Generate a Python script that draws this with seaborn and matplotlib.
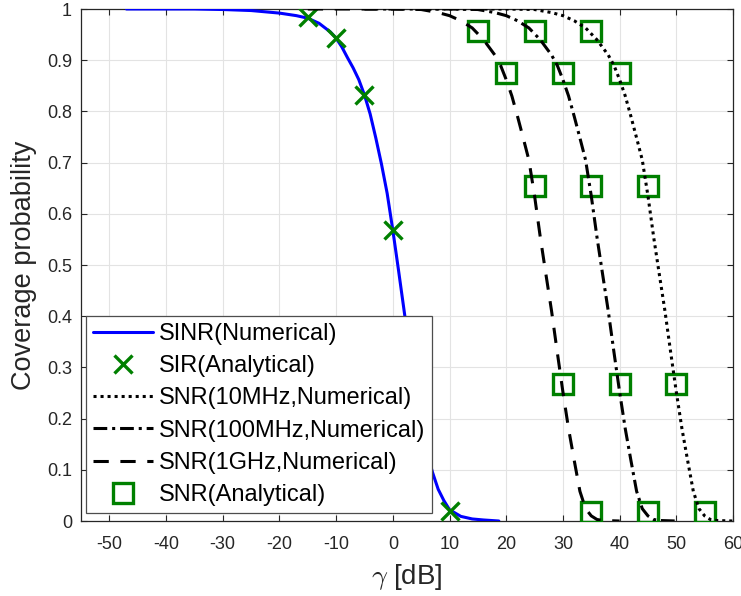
import matplotlib
matplotlib.use("Agg")
import matplotlib.pyplot as plt
import seaborn as sns

# SINR coverage probability (numerical evaluation)
sinr_gamma = [-47, -40, -35, -30, -25, -20, -17, -15, -13, -11, -10, -9, -8, -7, -6,
              -5, -4, -3, -2, -1, 0, 1, 2, 3, 4, 5, 6, 7, 8, 9, 10, 12, 14, 16, 18.7]
sinr_cov = [1.0, 1.0, 1.0, 0.999, 0.997, 0.992, 0.987, 0.982, 0.972, 0.955, 0.943,
            0.926, 0.905, 0.885, 0.862, 0.832, 0.795, 0.748, 0.697, 0.640, 0.568,
            0.490, 0.410, 0.330, 0.260, 0.190, 0.135, 0.095, 0.062, 0.040, 0.022,
            0.009, 0.004, 0.002, 0.0]

# SIR coverage probability (closed form)
sir_gamma = [-15, -10, -5, 0, 10]
sir_cov = [0.984, 0.943, 0.832, 0.568, 0.020]

# SNR coverage probability (numerical), one curve per bandwidth
snr_10m_gamma = [5, 15, 20, 25, 28, 30, 32, 34, 36, 38, 39, 40, 41, 42, 43, 44, 45,
                 46, 47, 48, 49, 50, 51, 52, 53, 54, 55, 56, 57, 60]
snr_10m_cov = [1.0, 1.0, 1.0, 0.999, 0.993, 0.987, 0.977, 0.963, 0.940, 0.910, 0.890,
               0.862, 0.830, 0.790, 0.748, 0.705, 0.635, 0.555, 0.482, 0.410, 0.330,
               0.252, 0.180, 0.118, 0.058, 0.024, 0.010, 0.003, 0.001, 0.0]

snr_100m_gamma = [-5, 5, 10, 15, 18, 20, 22, 24, 26, 28, 29, 30, 31, 32, 33, 34, 35,
                  36, 37, 38, 39, 40, 41, 42, 43, 44, 45, 46, 47, 50]
snr_100m_cov = [1.0, 1.0, 1.0, 0.999, 0.993, 0.987, 0.977, 0.963, 0.940, 0.910, 0.890,
                0.862, 0.830, 0.790, 0.748, 0.705, 0.635, 0.555, 0.482, 0.410, 0.330,
                0.252, 0.180, 0.118, 0.058, 0.024, 0.010, 0.003, 0.001, 0.0]

snr_1g_gamma = [-15, -5, 0, 5, 8, 10, 12, 14, 16, 18, 19, 20, 21, 22, 23, 24, 25,
                26, 27, 28, 29, 30, 31, 32, 33, 34, 35, 36, 37, 40]
snr_1g_cov = [1.0, 1.0, 1.0, 0.999, 0.993, 0.987, 0.977, 0.963, 0.940, 0.910, 0.890,
              0.862, 0.830, 0.790, 0.748, 0.705, 0.635, 0.555, 0.482, 0.410, 0.330,
              0.252, 0.180, 0.118, 0.058, 0.024, 0.010, 0.003, 0.001, 0.0]

# SNR coverage probability (closed form)
snr_an_10m_gamma = [35, 40, 45, 50, 55]
snr_an_100m_gamma = [25, 30, 35, 40, 45]
snr_an_1g_gamma = [15, 20, 25, 30, 35]
snr_an_cov = [0.957, 0.875, 0.654, 0.268, 0.018]

x_ticks = [-50, -40, -30, -20, -10, 0, 10, 20, 30, 40, 50, 60]
y_ticks = [0, 0.1, 0.2, 0.3, 0.4, 0.5, 0.6, 0.7, 0.8, 0.9, 1.0]
y_tick_labels = ["0", "0.1", "0.2", "0.3", "0.4", "0.5", "0.6", "0.7", "0.8", "0.9", "1"]

sns.set_style("ticks")
plt.rcParams["font.family"] = ["Liberation Sans", "DejaVu Sans"]
plt.rcParams["mathtext.fontset"] = "cm"
plt.rcParams["axes.unicode_minus"] = False

BLUE = "#0000ff"
GREEN = "#008000"
BLACK = "#000000"
DARK = "#262626"
LW = 2.2

fig = plt.figure(figsize=(7.41, 5.96), dpi=100)
ax = fig.add_axes([81 / 741, 75 / 596, 652 / 741, 512 / 596])

sns.lineplot(x=sinr_gamma, y=sinr_cov, ax=ax, color=BLUE, linewidth=LW, zorder=3)
h_sinr = ax.lines[-1]
sns.lineplot(x=sir_gamma, y=sir_cov, ax=ax, color=GREEN, linestyle="none",
             marker="x", markersize=13, markeredgecolor=GREEN,
             markeredgewidth=2.4, zorder=4)
h_sir = ax.lines[-1]

for g in (snr_an_10m_gamma, snr_an_100m_gamma, snr_an_1g_gamma):
    sns.lineplot(x=g, y=snr_an_cov, ax=ax, color=GREEN, linestyle="none",
                 marker="s", markersize=14, markerfacecolor="none",
                 markeredgecolor=GREEN, markeredgewidth=2.4, zorder=4)
h_sq = ax.lines[-1]

sns.lineplot(x=snr_10m_gamma, y=snr_10m_cov, ax=ax, color=BLACK, linewidth=LW,
             linestyle=(0, (1, 1.3)), zorder=5)
h_10m = ax.lines[-1]
sns.lineplot(x=snr_100m_gamma, y=snr_100m_cov, ax=ax, color=BLACK, linewidth=LW,
             linestyle=(0, (4.5, 1.6, 1, 1.6)), zorder=5)
h_100m = ax.lines[-1]
sns.lineplot(x=snr_1g_gamma, y=snr_1g_cov, ax=ax, color=BLACK, linewidth=LW,
             linestyle=(0, (5, 3.8)), zorder=5)
h_1g = ax.lines[-1]

ax.set_xlim(-55, 60)
ax.set_ylim(0, 1)
ax.set_xticks(x_ticks)
ax.set_yticks(y_ticks)
ax.set_yticklabels(y_tick_labels)
ax.grid(True, color="#e3e3e3", linewidth=0.8)
ax.set_axisbelow(True)
for s in ax.spines.values():
    s.set_visible(True)
    s.set_color(DARK)
    s.set_linewidth(0.9)
ax.tick_params(direction="in", top=True, right=True, length=4.5, width=0.8,
               color=DARK, labelcolor=DARK, labelsize=13, pad=6.5)
ax.tick_params(axis="x", pad=11)

ax.set_xlabel(r"$\gamma$ [dB]", fontsize=20, color=DARK, labelpad=6)
ax.set_ylabel("Coverage probability", fontsize=19.5, color=DARK, labelpad=7)

leg = ax.legend(
    handles=[h_sinr, h_sir, h_10m, h_100m, h_1g, h_sq],
    labels=["SINR(Numerical)", "SIR(Analytical)", "SNR(10MHz,Numerical)",
            "SNR(100MHz,Numerical)", "SNR(1GHz,Numerical)", "SNR(Analytical)"],
    loc="lower left", bbox_to_anchor=(5 / 652, 8 / 512), borderaxespad=0,
    fontsize=17, handlelength=2.55, handletextpad=0.22, labelspacing=0.43,
    borderpad=0.3, fancybox=False, framealpha=1, edgecolor="#4d4d4d",
)
leg.get_frame().set_linewidth(0.9)
for t in leg.get_texts():
    t.set_color(BLACK)

fig.savefig("out.png", dpi=100)
